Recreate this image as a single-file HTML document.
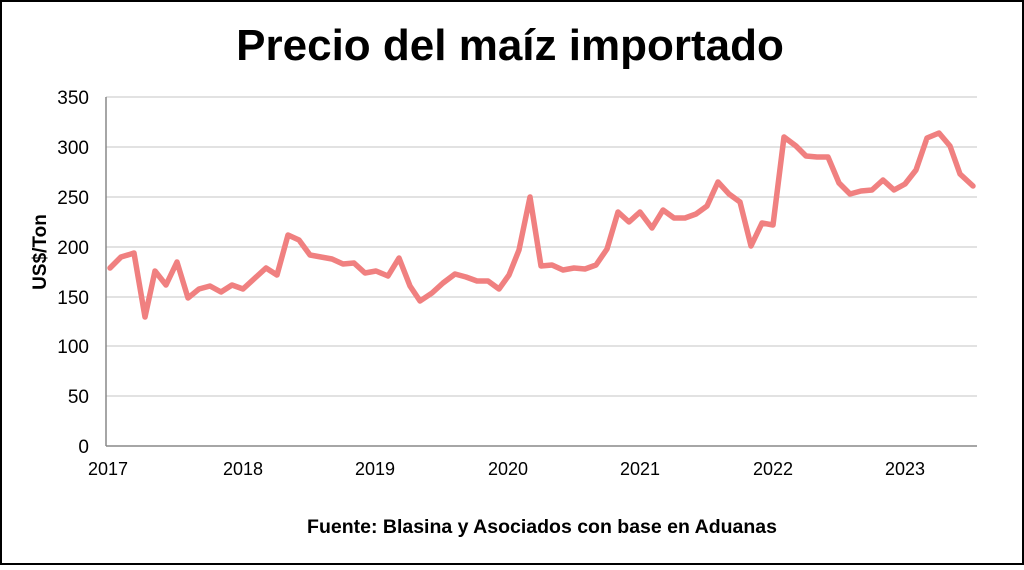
<!DOCTYPE html>
<html><head><meta charset="utf-8"><style>
html,body{margin:0;padding:0;background:#fff}
</style></head><body>
<svg width="1024" height="565" viewBox="0 0 1024 565" xmlns="http://www.w3.org/2000/svg" font-family="Liberation Sans, Arial, sans-serif">
<rect x="1" y="1" width="1022" height="563" fill="#fff" stroke="#000" stroke-width="2"/>
<text x="510" y="60" font-size="44" font-weight="bold" text-anchor="middle" fill="#000">Precio del maíz importado</text>
<g stroke="#d0d0d0" stroke-width="1.2">
<line x1="106" x2="977" y1="97" y2="97"/><line x1="106" x2="977" y1="147" y2="147"/>
<line x1="106" x2="977" y1="197" y2="197"/><line x1="106" x2="977" y1="247" y2="247"/>
<line x1="106" x2="977" y1="297" y2="297"/><line x1="106" x2="977" y1="346" y2="346"/>
<line x1="106" x2="977" y1="396" y2="396"/>
</g>
<line x1="106" x2="977" y1="446" y2="446" stroke="#888" stroke-width="1.5"/>
<line x1="106" x2="106" y1="97" y2="446" stroke="#888" stroke-width="1.5"/>
<g font-size="19" fill="#000" text-anchor="end">
<text x="89" y="104">350</text><text x="89" y="154">300</text><text x="89" y="204">250</text>
<text x="89" y="254">200</text><text x="89" y="304">150</text><text x="89" y="353">100</text>
<text x="89" y="403">50</text><text x="89" y="453">0</text>
</g>
<g font-size="18" fill="#000" text-anchor="middle">
<text x="108" y="475">2017</text><text x="243" y="475">2018</text><text x="375" y="475">2019</text>
<text x="508" y="475">2020</text><text x="640" y="475">2021</text><text x="773" y="475">2022</text><text x="905" y="475">2023</text>
</g>
<text transform="translate(46,252) rotate(-90)" font-size="19" font-weight="bold" text-anchor="middle">US$/Ton</text>
<polyline fill="none" stroke="#f08080" stroke-width="5.5" stroke-linejoin="round" stroke-linecap="round" points="110,268 121,257 131,254 134,253 145,317 155,271 166,285 177,262 188,298 199,289 210,286 221,292 232,285 243,289 255,278 266,268 277,275 288,235 299,240 310,255 321,257 332,259 343,264 354,263 365,273 376,271 388,276 399,258 410,286 420,301 432,293 443,283 455,274 466,277 477,281 488,281 499,289 509,275 519,250 530,197 541,266 552,265 563,270 574,268 585,269 596,265 607,249 618,212 629,222 640,212 652,228 663,210 674,218 685,218 696,214 707,206 718,182 729,194 740,202 751,246 762,223 773,225 784,137 796,146 806,156 817,157 828,157 839,183 850,194 861,191 872,190 883,180 894,190 905,184 916,170 927,138 939,133 950,146 960,174 973,186"/>
<text x="542" y="533" font-size="19.5" font-weight="bold" text-anchor="middle">Fuente: Blasina y Asociados con base en Aduanas</text>
</svg>
</body></html>
